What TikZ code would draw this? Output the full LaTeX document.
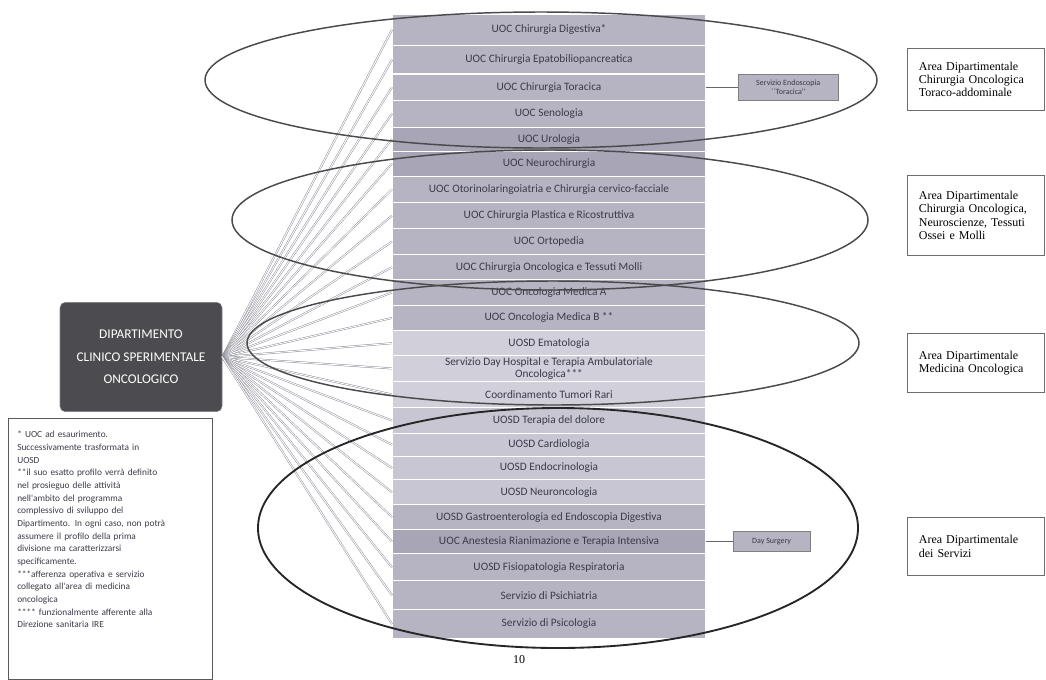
\documentclass[tikz,border=0pt]{standalone}
\usepackage{fontspec}
\setmainfont{Liberation Serif}
\newfontfamily\unitfont{Carlito}
\usetikzlibrary{positioning}
\definecolor{unitmid}{HTML}{B6B4C3}
\definecolor{unitdark}{HTML}{A8A6B6}
\definecolor{unitlight}{HTML}{D0CFDA}
\definecolor{unitpale}{HTML}{C7C6D2}
\definecolor{unittext}{HTML}{3A3A48}
\definecolor{deptgray}{HTML}{4B4B50}
\definecolor{fangray}{HTML}{8A8A96}
\definecolor{ringgray}{HTML}{4A4A4A}
\definecolor{areagray}{HTML}{6E6E6E}

\begin{document}
\begin{tikzpicture}[
  x=0.75pt, y=-0.75pt,
  unit/.style={draw=white, line width=0.8pt, fill=unitmid, minimum width=235.5pt, inner sep=0.5pt, outer sep=0pt, align=center, text=unittext, font=\unitfont\fontsize{8.5}{9}\selectfont},
  dept/.style={draw=deptgray!70, fill=deptgray, rounded corners=4pt, minimum width=121.5pt, minimum height=82pt, align=center, text=white, font=\unitfont\fontsize{10}{17}\selectfont},
  side/.style={draw=gray, fill=unitmid, align=center, text=unittext, font=\unitfont\fontsize{6}{7}\selectfont, inner sep=1pt},
  area/.style={draw=areagray, line width=0.8pt, anchor=north west, text width=86pt, align=left, inner xsep=8.5pt, inner ysep=5pt, font=\fontsize{9}{10}\selectfont},
  fan/.style={draw=fangray, double=white, double distance=0.7pt, line width=0.35pt},
  link/.style={draw=gray!80!black, line width=0.6pt},
  ring/.style={draw=ringgray, line width=1.1pt}
]
\useasboundingbox (0,0) rectangle (1046,679);

% column of units
\node[unit, minimum height=23.6pt, anchor=north] (u1) at (549,14) {UOC Chirurgia Digestiva*};
\node[unit, minimum height=21.4pt, below=0pt of u1] (u2) {UOC Chirurgia Epatobiliopancreatica};
\node[unit, minimum height=19.9pt, below=0pt of u2] (u3) {UOC Chirurgia Toracica};
\node[unit, minimum height=19.9pt, below=0pt of u3] (u4) {UOC Senologia};
\node[unit, fill=unitdark, minimum height=18pt, below=0pt of u4] (u5) {UOC Urologia};
\node[unit, fill=unitdark, minimum height=18.8pt, below=0pt of u5] (u6) {UOC Neurochirurgia};
\node[unit, minimum height=19.9pt, below=0pt of u6] (u7) {UOC Otorinolaringoiatria e Chirurgia cervico-facciale};
\node[unit, minimum height=19.5pt, below=0pt of u7] (u8) {UOC Chirurgia Plastica e Ricostruttiva};
\node[unit, minimum height=19.5pt, below=0pt of u8] (u9) {UOC Ortopedia};
\node[unit, minimum height=18.8pt, below=0pt of u9] (u10) {UOC Chirurgia Oncologica e Tessuti Molli};
\node[unit, minimum height=19.1pt, below=0pt of u10] (u11) {UOC Oncologia Medica A};
\node[unit, minimum height=19.1pt, below=0pt of u11] (u12) {UOC Oncologia Medica B **};
\node[unit, fill=unitlight, minimum height=18.8pt, below=0pt of u12] (u13) {UOSD Ematologia};
\node[unit, fill=unitlight, minimum height=19.1pt, below=0pt of u13] (u14) {Servizio Day Hospital e Terapia Ambulatoriale\\{}Oncologica***};
\node[unit, fill=unitlight, minimum height=19.9pt, below=0pt of u14] (u15) {Coordinamento Tumori Rari};
\node[unit, fill=unitpale, minimum height=19.1pt, below=0pt of u15] (u16) {UOSD Terapia del dolore};
\node[unit, fill=unitpale, minimum height=17.3pt, below=0pt of u16] (u17) {UOSD Cardiologia};
\node[unit, fill=unitpale, minimum height=17.6pt, below=0pt of u17] (u18) {UOSD Endocrinologia};
\node[unit, fill=unitpale, minimum height=18.8pt, below=0pt of u18] (u19) {UOSD Neuroncologia};
\node[unit, minimum height=18.4pt, below=0pt of u19] (u20) {UOSD Gastroenterologia ed Endoscopia Digestiva};
\node[unit, fill=unitdark, minimum height=18.4pt, below=0pt of u20] (u21) {UOC Anestesia Rianimazione e Terapia Intensiva};
\node[unit, minimum height=20.3pt, below=0pt of u21] (u22) {UOSD Fisiopatologia Respiratoria};
\node[unit, minimum height=21.4pt, below=0pt of u22] (u23) {Servizio di Psichiatria};
\node[unit, minimum height=21.8pt, below=0pt of u23] (u24) {Servizio di Psicologia};

% department and notes
\node[dept] (dip) at (141,357) {DIPARTIMENTO\\CLINICO SPERIMENTALE\\ONCOLOGICO};
\draw[draw=gray!70!black, line width=0.6pt] (8,418) rectangle (212,679);
\node[anchor=north west, text width=140pt, align=left, inner xsep=0pt, inner ysep=0pt, text=unittext, font=\unitfont\fontsize{7}{9.5}\selectfont] (note) at (17,431) {* UOC ad esaurimento.\\Successivamente trasformata in\\UOSD\\{}**il suo esatto profilo verrà definito\\nel prosieguo delle attività\\nell'ambito del programma\\complessivo di sviluppo del\\Dipartimento. In ogni caso, non potrà\\assumere il profilo della prima\\divisione ma caratterizzarsi\\specificamente.\\{}***afferenza operativa e servizio\\collegato all'area di medicina\\oncologica\\{}**** funzionalmente afferente alla\\Direzione sanitaria IRE};

\foreach \i in {1,...,24}
  \draw[fan] (dip.east) -- (u\i.west);

% side services
\node[side, minimum width=75pt, minimum height=19.5pt, right=24pt of u3] (endo) {Servizio Endoscopia\\``Toracica''};
\node[side, minimum width=58pt, minimum height=15pt, right=20pt of u21] (dsurg) {Day Surgery};
\draw[link] (u3.east) -- (endo.west);
\draw[link] (u21.east) -- (dsurg.west);

% areas
\draw[ring] (541,80) ellipse [x radius=252pt, y radius=51pt];
\draw[ring] (550,220) ellipse [x radius=238.5pt, y radius=52.5pt];
\draw[ring] (553,343) ellipse [x radius=229.5pt, y radius=46.5pt];
\draw[ring, draw=black!85, line width=1.4pt] (558,528) ellipse [x radius=225pt, y radius=90pt];

\node[area, minimum height=46.5pt] (a1) at (907,48) {Area Dipartimentale\\Chirurgia Oncologica\\Toraco-addominale};
\node[area, minimum height=60pt] (a2) at (907,175) {Area Dipartimentale\\Chirurgia Oncologica,\\Neuroscienze, Tessuti\\Ossei e Molli};
\node[area, minimum height=44pt] (a3) at (907,333) {Area Dipartimentale\\Medicina Oncologica};
\node[area, minimum height=43.5pt] (a4) at (907,517) {Area Dipartimentale\\dei Servizi};

\node[font=\fontsize{9}{10}\selectfont] (page) at (519,660) {10};
\end{tikzpicture}
\end{document}
